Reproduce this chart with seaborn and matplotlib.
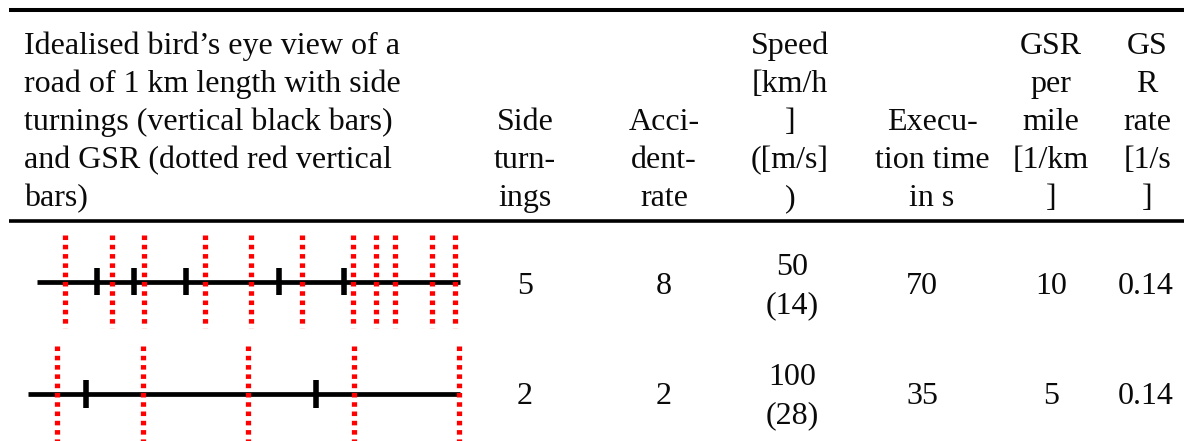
import matplotlib
matplotlib.use('Agg')
import matplotlib.pyplot as plt
import seaborn as sns
import pandas as pd

# Daten der Tabelle
side_turnings = [5, 2]
accident_rate = [8, 2]
speed_kmh = [50, 100]
speed_ms = [14, 28]
exec_time = [70, 35]
gsr_per_km = [10, 5]
gsr_rate = [0.14, 0.14]

# Positionen (m) entlang der 1 km Strasse
road_length = 1000
turn_pos = [[142, 229, 352, 572, 726],
            [134, 667]]
gsr_pos = [[66, 177, 253, 397, 506, 626, 747, 801, 846, 934, 988],
           [67, 266, 509, 755, 998]]

header_left = ["Idealised bird’s eye view of a",
               "road of 1 km length with side",
               "turnings (vertical black bars)",
               "and GSR (dotted red vertical",
               "bars)"]
col_headers = [["Side", "turn-", "ings"],
               ["Acci-", "dent-", "rate"],
               ["Speed", "[km/h", "]", "([m/s]", ")"],
               ["Execu-", "tion time", "in s"],
               ["GSR", "per", "mile", "[1/km", "]"],
               ["GS", "R", "rate", "[1/s", "]"]]

sns.set_theme(style='white')
plt.rcParams['font.family'] = ['Liberation Serif', 'DejaVu Serif']

W, H = 1184, 441
fig = plt.figure(figsize=(W / 100, H / 100), dpi=100)
ax = fig.add_axes([0, 0, 1, 1])
ax.set_xlim(0, W)
ax.set_ylim(H, 0)
ax.axis('off')

fs = 23
txt = '#0a0a0a'
# Linien der Tabelle
ax.hlines(10.3, 9, W, color='black', lw=2.9)
ax.hlines(220.5, 9, W, color='black', lw=2.6)

# Kopfzeile
baselines = [54, 92, 130, 168, 206]
for i, line in enumerate(header_left):
    ax.text(24, baselines[i], line, fontsize=fs, va='baseline', ha='left', color=txt)

head_x = [525, 664, 790, 932, 1051, 1147]
data_x = [525, 664, 792, 922, 1051, 1146]
for cx, lines in zip(head_x, col_headers):
    bl = baselines[-len(lines):]
    for y, line in zip(bl, lines):
        ax.text(cx, y, line, fontsize=fs, va='baseline', ha='center', color=txt)

# Datenzeilen
df = pd.DataFrame({'side': side_turnings, 'acc': accident_rate, 'kmh': speed_kmh,
                   'ms': speed_ms, 'time': exec_time, 'gsr': gsr_per_km, 'rate': gsr_rate})
row_mid = [294, 404]
for r, row in df.iterrows():
    y = row_mid[r]
    single = [str(int(row['side'])), str(int(row['acc'])), None,
              str(int(row['time'])), str(int(row['gsr'])), f"{row['rate']:.2f}"]
    for cx, s in zip(data_x, single):
        if s is not None:
            ax.text(cx, y, s, fontsize=fs, va='baseline', ha='center', color=txt)
    ax.text(data_x[2], y - 19, str(int(row['kmh'])), fontsize=fs, va='baseline', ha='center', color=txt)
    ax.text(data_x[2], y + 19, f"({int(row['ms'])})", fontsize=fs, va='baseline', ha='center', color=txt)

# Skizzen der Strasse
boxes = [(37, 460, 235, 328), (28, 460, 346, 442)]
for k, (x0, x1, y0, y1) in enumerate(boxes):
    a = fig.add_axes([x0 / W, 1 - y1 / H, (x1 - x0) / W, (y1 - y0) / H])
    a.set_xlim(0, road_length)
    a.set_ylim(-1, 1)
    a.axis('off')
    sns.lineplot(x=[0, road_length], y=[0, 0], ax=a, color='black', lw=3.4,
                 solid_capstyle='butt', clip_on=False)
    a.vlines(turn_pos[k], -0.3, 0.3, colors='black', lw=4.0, clip_on=False)
    a.vlines(gsr_pos[k], 1, -1, colors='#ff0000', lw=3.8,
             linestyles=[(0, (0.86, 0.9))], clip_on=False, zorder=5)

fig.savefig('out.png', dpi=100)
